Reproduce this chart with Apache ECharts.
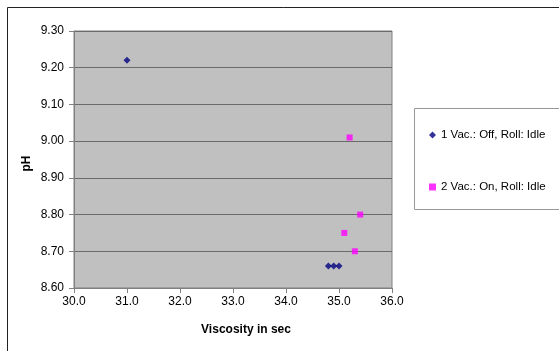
<!DOCTYPE html>
<html>
<head>
<meta charset="utf-8">
<script src="https://cdn.jsdelivr.net/npm/echarts@6/dist/echarts.min.js"></script>
<style>
  html, body { margin: 0; padding: 0; background: #fff; }
  #chart { width: 559px; height: 351px; }
</style>
</head>
<body>
<div id="chart"></div>
<script>
// series 1: Vac. Off, Roll Idle
const offViscosity = [31.0, 34.8, 34.9, 35.0]
const offPh = [9.22, 8.66, 8.66, 8.66]
// series 2: Vac. On, Roll Idle
const onViscosity = [35.2, 35.4, 35.1, 35.3]
const onPh = [9.01, 8.80, 8.75, 8.70]
const seriesNames = ['1 Vac.: Off, Roll: Idle', '2 Vac.: On, Roll: Idle']

const font = 'Liberation Sans, Arial, sans-serif'
const chart = echarts.init(document.getElementById('chart'))

chart.setOption({
  animation: false,
  textStyle: { fontFamily: font },
  graphic: [
    {
      type: 'rect',
      shape: { x: 7.5, y: 7.5, width: 600, height: 400 },
      style: { fill: 'none', stroke: '#222', lineWidth: 1 },
      z: -1
    },
    {
      type: 'rect',
      shape: { x: 414.5, y: 108.5, width: 160, height: 101 },
      style: { fill: '#fff', stroke: '#999', lineWidth: 1 },
      z: 0
    }
  ],
  grid: {
    left: 74,
    right: 167,
    top: 31,
    bottom: 63,
    show: true,
    backgroundColor: '#c0c0c0',
    borderColor: '#808080',
    borderWidth: 1
  },
  legend: {
    orient: 'vertical',
    left: 424,
    top: 124,
    itemGap: 40,
    itemWidth: 7,
    itemHeight: 7,
    textStyle: { fontSize: 11.5, color: '#000', fontFamily: font },
    data: [
      { name: seriesNames[0], icon: 'diamond' },
      { name: seriesNames[1], icon: 'rect' }
    ],
    z: 5
  },
  xAxis: {
    type: 'value',
    min: 30,
    max: 36,
    interval: 1,
    name: 'Viscosity in sec',
    nameLocation: 'middle',
    nameGap: 36,
    nameTextStyle: { fontSize: 12, fontWeight: 'bold', color: '#000', fontFamily: font, padding: [0, 0, 0, 26] },
    axisLine: { show: true, lineStyle: { color: '#808080' } },
    axisTick: { show: true, length: 5, lineStyle: { color: '#808080' } },
    axisLabel: { fontSize: 12, color: '#000', margin: 8, formatter: v => v.toFixed(1) },
    splitLine: { show: false }
  },
  yAxis: {
    type: 'value',
    min: 8.6,
    max: 9.3,
    interval: 0.1,
    name: 'pH',
    nameLocation: 'middle',
    nameGap: 41,
    nameMoveOverlap: false,
    nameRotate: 90,
    nameTextStyle: { fontSize: 12, fontWeight: 'bold', color: '#000', fontFamily: font, padding: [0, 8, 0, 0] },
    axisLine: { show: true, lineStyle: { color: '#808080' } },
    axisTick: { show: true, length: 5, lineStyle: { color: '#808080' } },
    axisLabel: { fontSize: 12, color: '#000', margin: 10, formatter: v => v.toFixed(2) },
    splitLine: { show: true, lineStyle: { color: '#6a6a6a', width: 1 } }
  },
  series: [
    {
      name: seriesNames[0],
      type: 'scatter',
      symbol: 'diamond',
      symbolSize: 7,
      itemStyle: { color: '#000080' },
      data: offViscosity.map((v, i) => [v, offPh[i]])
    },
    {
      name: seriesNames[1],
      type: 'scatter',
      symbol: 'rect',
      symbolSize: 6,
      itemStyle: { color: '#ff00ff' },
      data: onViscosity.map((v, i) => [v, onPh[i]])
    }
  ]
})
</script>
</body>
</html>
